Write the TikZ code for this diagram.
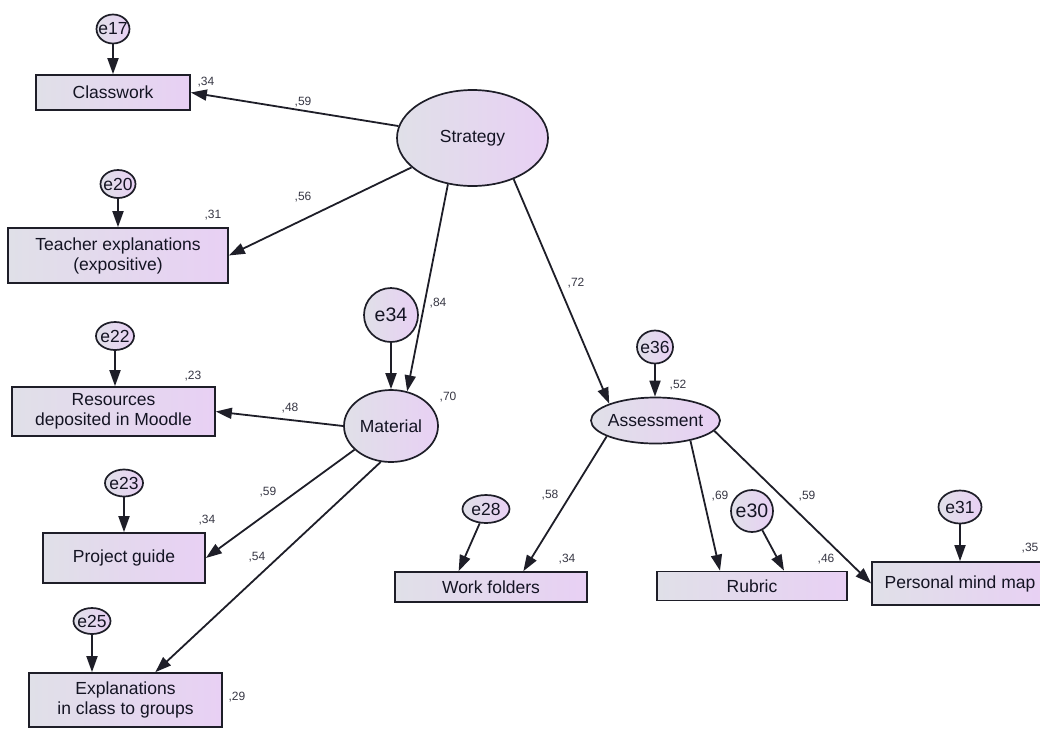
\documentclass[tikz,border=0pt]{standalone}
\usepackage{fontspec}
\setmainfont{Liberation Sans}
\usetikzlibrary{shapes.geometric,arrows.meta,calc}
\definecolor{lft}{RGB}{224,224,232}
\definecolor{rgt}{RGB}{232,208,244}
\definecolor{ln}{RGB}{30,30,40}
\definecolor{tx}{RGB}{20,20,35}
\newcommand\zw[1]{\makebox[0pt]{#1}}
\begin{document}
\begin{tikzpicture}[x=1pt,y=-1pt,
  box/.style={draw=ln, line width=1.7pt, left color=lft, right color=rgt, rectangle, inner sep=0pt,
    font=\fontsize{17.5}{20}\selectfont, text=tx, align=center},
  lat/.style={draw=ln, line width=1.7pt, left color=lft, right color=rgt, ellipse, inner sep=0pt,
    font=\fontsize{17.5}{20}\selectfont, text=tx},
  big/.style={font=\fontsize{19.5}{20}\selectfont},
  num/.style={font=\fontsize{12}{12}\selectfont, text=tx!85, inner sep=0pt},
  arr/.style={draw=ln, line width=1.8pt, -{Triangle[length=16pt,width=11pt]}},
]
\clip (0,0) rectangle (1040,729);
\fill[white] (0,0) rectangle (1040,729);

% observed variables
\node[box, minimum width=154pt, minimum height=35pt] (C) at (113,92.5) {Classwork};
\node[box, minimum width=220pt, minimum height=55pt] (T) at (118,255.5) {Teacher explanations\\(expositive)};
\node[box, minimum width=203pt, minimum height=49pt] (R) at (113.5,411.5) {Resources\\deposited in Moodle};
\node[box, minimum width=162pt, minimum height=50pt] (PG) at (124,558) {Project guide};
\node[box, minimum width=193pt, minimum height=54pt] (E) at (125.5,700) {Explanations\\in class to groups};
\node[box, minimum width=192pt, minimum height=30pt] (WF) at (491,587) {Work folders};
\node[box, minimum width=190pt, minimum height=29pt] (Rb) at (752,586) {Rubric};
\node[box, minimum width=176pt, minimum height=43pt] (PMM) at (960,583.5) {Personal mind map};

% latent variables
\node[lat, minimum width=151pt, minimum height=96pt] (S) at (472.5,138) {\zw{Strategy}};
\node[lat, minimum width=94pt, minimum height=72pt] (M) at (391,426) {\zw{Material}};
\node[lat, minimum width=129pt, minimum height=46pt] (A) at (655.5,420.5) {\zw{Assessment}};

% error terms
\node[lat, minimum width=33pt, minimum height=29pt] (e17) at (113,29) {\zw{e17}};
\node[lat, minimum width=35pt, minimum height=28pt] (e20) at (118,184) {\zw{e20}};
\node[lat, minimum width=38pt, minimum height=28pt] (e22) at (115,336) {\zw{e22}};
\node[lat, minimum width=38pt, minimum height=27pt] (e23) at (124,483) {\zw{e23}};
\node[lat, minimum width=37pt, minimum height=26pt] (e25) at (92,621) {\zw{e25}};
\node[lat, big, minimum width=54pt, minimum height=54pt] (e34) at (391,315) {\zw{e34}};
\node[lat, minimum width=36pt, minimum height=33pt] (e36) at (655,347) {\zw{e36}};
\node[lat, minimum width=47pt, minimum height=28pt] (e28) at (486,509) {\zw{e28}};
\node[lat, big, minimum width=42pt, minimum height=42pt] (e30) at (752,511) {\zw{e30}};
\node[lat, minimum width=43pt, minimum height=33pt] (e31) at (960,507) {\zw{e31}};

% error arrows
\draw[arr] (e17) -- (e17 |- C.north);
\draw[arr] (e20) -- (e20 |- T.north);
\draw[arr] (e22) -- (e22 |- R.north);
\draw[arr] (e23) -- (e23 |- PG.north);
\draw[arr] (e25) -- (e25 |- E.north);
\draw[arr] (e34) -- (e34 |- M.north);
\draw[arr] (e36) -- (e36 |- A.north);
\draw[arr] (e31) -- (e31 |- PMM.north);
\draw[arr] (e28) -- ($(WF.north west)!0.333!(WF.north east)$);
\draw[arr] (e30) -- ($(Rb.north west)!0.667!(Rb.north east)$);

% structural arrows
\draw[arr] (S) -- (C.east);
\draw[arr] (S) -- (T.east);
\draw[arr] (S.-118) -- (M.65);
\draw[arr] (S.-45) -- (A.160);
\draw[arr] (M.west) -- (R.east);
\draw[arr] (M.-147) -- (PG.east);
\draw[arr] (M.-106) -- (E);
\draw[arr] (A.-162) -- ($(WF.north west)!0.667!(WF.north east)$);
\draw[arr] (A.-30) -- ($(Rb.north west)!0.333!(Rb.north east)$);
\draw[arr] (A.-10) -- (PMM.west);

% coefficients
\node[num] (n1) at (206,82) {,34};
\node[num] (n2) at (303,102) {,59};
\node[num] (n3) at (303,197) {,56};
\node[num] (n4) at (213,215) {,31};
\node[num] (n5) at (438,303) {,84};
\node[num] (n6) at (576,283) {,72};
\node[num] (n7) at (448,397) {,70};
\node[num] (n8) at (193,376) {,23};
\node[num] (n9) at (290,408) {,48};
\node[num] (n10) at (207,520) {,34};
\node[num] (n11) at (268,492) {,59};
\node[num] (n12) at (257,557) {,54};
\node[num] (n13) at (237,697) {,29};
\node[num] (n14) at (678,385) {,52};
\node[num] (n15) at (550,495) {,58};
\node[num] (n16) at (567,559) {,34};
\node[num] (n17) at (720,496) {,69};
\node[num] (n18) at (826,559) {,46};
\node[num] (n19) at (807,496) {,59};
\node[num] (n20) at (1030,548) {,35};
\end{tikzpicture}
\end{document}
